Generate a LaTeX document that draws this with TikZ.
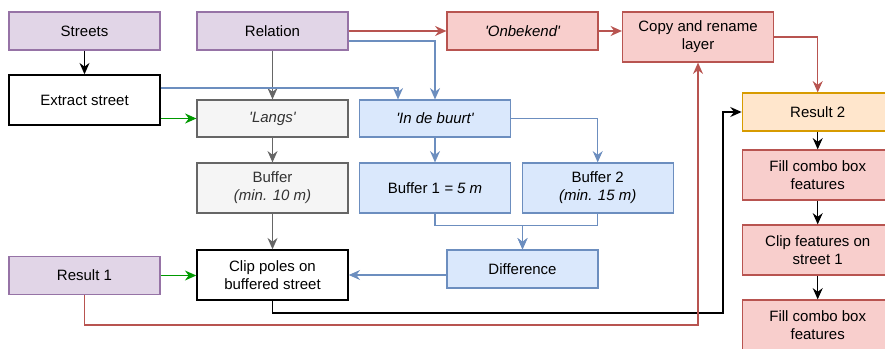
\documentclass[tikz,border=0pt]{standalone}
\usepackage{fontspec}
\setmainfont{Liberation Sans}
\usetikzlibrary{arrows.meta}

\definecolor{purpleFill}{HTML}{E1D5E7}
\definecolor{purpleLine}{HTML}{9673A6}
\definecolor{redFill}{HTML}{F8CECC}
\definecolor{redLine}{HTML}{B85450}
\definecolor{grayFill}{HTML}{F5F5F5}
\definecolor{grayLine}{HTML}{666666}
\definecolor{grayText}{HTML}{333333}
\definecolor{blueFill}{HTML}{DAE8FC}
\definecolor{blueLine}{HTML}{6C8EBF}
\definecolor{orangeFill}{HTML}{FFE6CC}
\definecolor{orangeLine}{HTML}{D79B00}
\definecolor{greenLine}{HTML}{009900}

% straight single quote around the relation values
\newcommand{\sq}{\textquotesingle}

\tikzset{
  box/.style={rectangle, draw, line width=0.9pt, inner sep=0pt, align=center,
    minimum width=113.25pt, minimum height=28.5pt},
  tall/.style={minimum height=37.5pt},
  mid/.style={minimum height=27.75pt},
  purplebox/.style={box, fill=purpleFill, draw=purpleLine},
  redbox/.style={box, fill=redFill, draw=redLine},
  graybox/.style={box, fill=grayFill, draw=grayLine, text=grayText},
  bluebox/.style={box, fill=blueFill, draw=blueLine},
  orangebox/.style={box, fill=orangeFill, draw=orangeLine},
  plainbox/.style={box, fill=white, draw=black, line width=1.1pt},
  conn/.style={line width=0.85pt, -{Stealth[length=8.5pt, width=7.5pt, inset=2.8pt]}},
  blk/.style={conn, draw=black},
  redc/.style={conn, draw=redLine},
  bluec/.style={conn, draw=blueLine},
  grayc/.style={conn, draw=grayLine},
  greenc/.style={conn, draw=greenLine},
}

\begin{document}
\begin{tikzpicture}[x=0.75pt, y=-0.75pt, font=\fontsize{11.25}{13.5}\selectfont]
\useasboundingbox (0,0) rectangle (885,349);

% top row
\node[purplebox] (streets) at (84.5,31) {Streets};
\node[purplebox] (relation) at (272.5,31) {Relation};
\node[redbox] (onbekend) at (522.5,31) {\itshape \sq Onbekend\sq};
\node[redbox, tall] (copy) at (698,37) {Copy and rename\\layer};

% left column and branches
\node[plainbox, tall] (extract) at (84.5,100) {Extract street};
\node[graybox, mid] (langs) at (272.5,118.5) {\itshape \sq Langs\sq};
\node[bluebox, mid] (buurt) at (435,118.5) {\itshape \sq In de buurt\sq};

\node[graybox, tall] (bufA) at (272.5,188) {Buffer\\\itshape (min. 10 m)};
\node[bluebox, tall] (buf1) at (435,188) {Buffer 1 \textit{= 5 m}};
\node[bluebox, tall] (buf2) at (597.7,188) {Buffer 2\\\itshape (min. 15 m)};

\node[bluebox] (diff) at (522.5,269) {Difference};
\node[plainbox, tall] (clip) at (272.5,275) {Clip poles on\\buffered street};
\node[purplebox] (result1) at (84.5,275.5) {Result 1};

% right column
\node[orangebox] (result2) at (817.7,112) {Result 2};
\node[redbox, tall] (fill1) at (817.7,175) {Fill combo box\\features};
\node[redbox, tall] (clipf) at (817.7,250) {Clip features on\\street 1};
\node[redbox, tall] (fill2) at (817.7,325) {Fill combo box\\features};

% bends of the long connectors
\coordinate (k1) at (723,313);
\coordinate (k2) at (698,325);

% connectors
\draw[blk] (streets) -- (extract);
\draw[redc] (relation) -- (onbekend);
\draw[redc] (onbekend.east) -- (onbekend.east -| copy.west);
\draw[bluec] ([yshift=-7.5pt]relation.east) -| (buurt.north);
\draw[grayc] (relation) -- (langs);
\draw[bluec] ([yshift=9pt]extract.east) -| ([xshift=-27.75pt]buurt.north);
\draw[greenc] (extract.east |- langs.west) -- (langs.west);
\draw[grayc] (langs) -- (bufA);
\draw[bluec] (buurt) -- (buf1);
\draw[bluec] (buurt.east) -| (buf2.north);
\draw[bluec] (buf1.south) -- ++(0,12) -| (diff.north);
\draw[bluec] (buf2.south) -- ++(0,12) -| (diff.north);
\draw[grayc] (bufA) -- (clip);
\draw[bluec] (diff.west |- clip.east) -- (clip.east);
\draw[greenc] (result1.east) -- (result1.east -| clip.west);
\draw[blk] (clip.south) |- (k1) |- (result2.west);
\draw[redc] (result1.south) |- (k2) -- (copy.south);
\draw[redc] (copy.east) -| (result2.north);
\draw[blk] (result2) -- (fill1);
\draw[blk] (fill1) -- (clipf);
\draw[blk] (clipf) -- (fill2);
\end{tikzpicture}
\end{document}
